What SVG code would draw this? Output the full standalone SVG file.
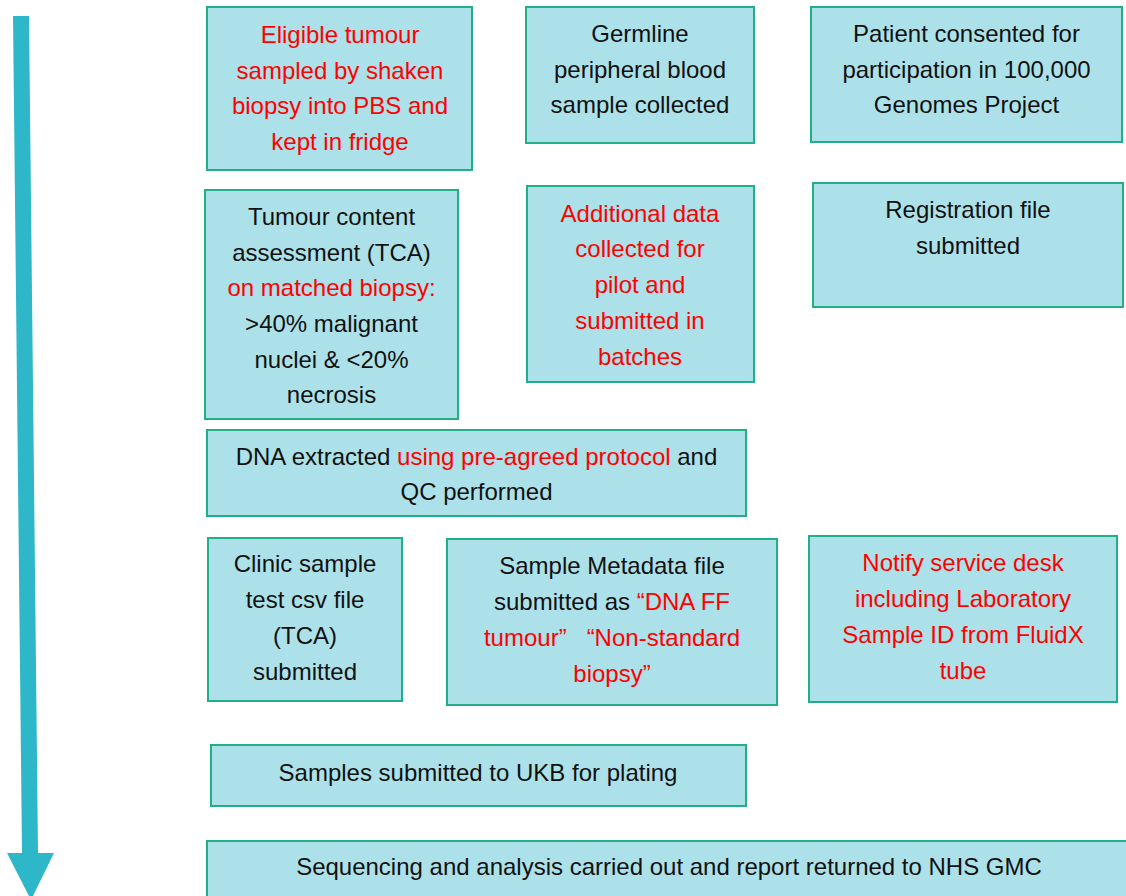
<svg xmlns="http://www.w3.org/2000/svg" width="1126" height="896" viewBox="0 0 1126 896">
<style>
.box{fill:#ADE1E9;stroke:#22AF88;stroke-width:2}
text{font-family:"Liberation Sans",Arial,sans-serif;font-size:24px;fill:#111;text-anchor:middle}
.r{fill:#FF0000}
</style>
<rect width="1126" height="896" fill="#fff"/>
<g id="connectors">
<polygon points="13,16 29,16 38,853 54,853 31,900 7,853 22,853" fill="#2EB7C8"/>
</g>
<g id="n1"><rect class="box" x="207" y="7" width="265" height="163"/>
<text class="r" x="340" y="43">Eligible tumour</text>
<text class="r" x="340" y="78.5">sampled by shaken</text>
<text class="r" x="340" y="114">biopsy into PBS and</text>
<text class="r" x="340" y="149.5">kept in fridge</text></g>
<g id="n2"><rect class="box" x="526" y="7" width="228" height="136"/>
<text x="640" y="42">Germline</text>
<text x="640" y="78">peripheral blood</text>
<text x="640" y="113">sample collected</text></g>
<g id="n3"><rect class="box" x="811" y="7" width="311" height="135"/>
<text x="966.5" y="42">Patient consented for</text>
<text x="966.5" y="78">participation in 100,000</text>
<text x="966.5" y="113">Genomes Project</text></g>
<g id="n4"><rect class="box" x="205" y="190" width="253" height="229"/>
<text x="331.5" y="225">Tumour content</text>
<text x="331.5" y="261">assessment (TCA)</text>
<text class="r" x="331.5" y="296">on matched biopsy:</text>
<text x="331.5" y="332">&gt;40% malignant</text>
<text x="331.5" y="368">nuclei &amp; &lt;20%</text>
<text x="331.5" y="403">necrosis</text></g>
<g id="n5"><rect class="box" x="527" y="186" width="227" height="196"/>
<text class="r" x="640" y="222">Additional data</text>
<text class="r" x="640" y="257">collected for</text>
<text class="r" x="640" y="293">pilot and</text>
<text class="r" x="640" y="329">submitted in</text>
<text class="r" x="640" y="365">batches</text></g>
<g id="n6"><rect class="box" x="813" y="183" width="310" height="124"/>
<text x="968" y="218">Registration file</text>
<text x="968" y="254">submitted</text></g>
<g id="n7"><rect class="box" x="207" y="430" width="539" height="86"/>
<text x="476.5" y="465">DNA extracted <tspan class="r">using pre-agreed protocol</tspan> and</text>
<text x="476.5" y="500">QC performed</text></g>
<g id="n8"><rect class="box" x="208" y="538" width="194" height="163"/>
<text x="305" y="572">Clinic sample</text>
<text x="305" y="608">test csv file</text>
<text x="305" y="644">(TCA)</text>
<text x="305" y="680">submitted</text></g>
<g id="n9"><rect class="box" x="447" y="539" width="330" height="166"/>
<text x="612" y="574">Sample Metadata file</text>
<text x="612" y="610">submitted as <tspan class="r">“DNA FF</tspan></text>
<text class="r" x="612" y="646" xml:space="preserve">tumour”   “Non-standard</text>
<text class="r" x="612" y="682">biopsy”</text></g>
<g id="n10"><rect class="box" x="809" y="536" width="308" height="166"/>
<text class="r" x="963" y="571">Notify service desk</text>
<text class="r" x="963" y="607">including Laboratory</text>
<text class="r" x="963" y="643">Sample ID from FluidX</text>
<text class="r" x="963" y="679">tube</text></g>
<g id="n11"><rect class="box" x="211" y="745" width="535" height="61"/>
<text x="478" y="781">Samples submitted to UKB for plating</text></g>
<g id="n12"><rect class="box" x="207" y="841" width="930" height="70"/>
<text x="669" y="875">Sequencing and analysis carried out and report returned to NHS GMC</text></g>
</svg>
